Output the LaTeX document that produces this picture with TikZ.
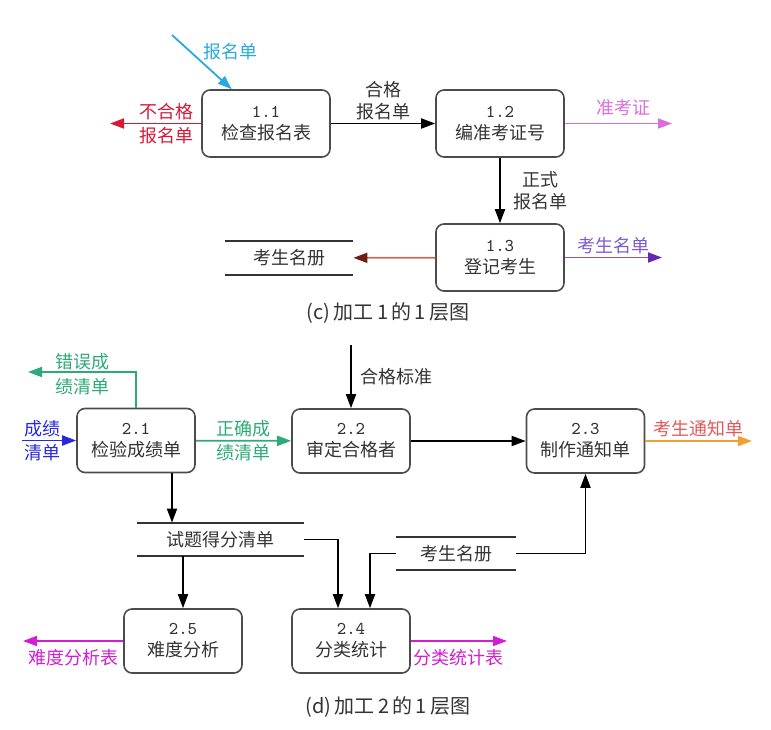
\documentclass[tikz,border=0pt]{standalone}
\usepackage{fontspec}
\newfontfamily\cjk{Noto Sans CJK SC}
\usetikzlibrary{arrows.meta}
\definecolor{rejred}{RGB}{215,25,55}
\definecolor{regblue}{RGB}{40,170,225}
\definecolor{cardpink}{RGB}{220,110,220}
\definecolor{linebrown}{RGB}{190,110,90}
\definecolor{tipbrown}{RGB}{110,30,20}
\definecolor{listpurple}{RGB}{125,90,210}
\definecolor{tippurple}{RGB}{100,40,180}
\definecolor{errgreen}{RGB}{45,170,120}
\definecolor{scoreblue}{RGB}{40,40,220}
\definecolor{noticeorange}{RGB}{240,160,50}
\definecolor{noticetext}{RGB}{225,90,90}
\definecolor{statmagenta}{RGB}{210,30,210}
\begin{document}
\begin{tikzpicture}[
        x=0.5pt, y=-0.5pt,
        every node/.style={font=\cjk\fontsize{9}{11}\selectfont, text=black!80},
        process/.style={rectangle, rounded corners=4pt, draw=black!70, line width=0.8pt, minimum width=64pt, minimum height=33.5pt, align=center, inner sep=1pt},
        subprocess/.style={process, minimum width=59pt, minimum height=32pt},
        store/.style={rectangle, minimum height=16.5pt, inner sep=0pt},
        store_line/.style={line width=1pt, black!80},
        flow/.style={line width=0.9pt, -{Triangle[length=7pt,width=5pt]}},
        flow_label/.style={inner sep=1.5pt, align=center},
        caption/.style={font=\cjk\fontsize{10}{12}\selectfont}
    ]
        \useasboundingbox (0,0) rectangle (771,729);
        % (c) Kreslení procesů 1
        \node[process] (proc11) at (266,123.5) {\texttt{1.1}\\检查报名表};
        \node[process] (proc12) at (500,123.5) {\texttt{1.2}\\编准考证号};
        \node[process] (proc13) at (500,257.5) {\texttt{1.3}\\登记考生};
        \node[store, minimum width=64pt, minimum height=17pt] (store1) at (289,258) {考生名册};
        \node[caption] (capc) at (388,313) {(c)\,加工\,1\,的\,1\,层图};
        \coordinate (regin) at (172,35);
        \coordinate (rejout) at (110,123.5);
        \coordinate (cardout) at (672,123.5);
        \coordinate (listout) at (662,257.5);
        % Toky (c)
        \draw[flow, regblue] (regin) -- (proc11.135)
            node[flow_label, pos=0.3, right=5pt, text=regblue] {报名单};
        \draw[flow, rejred] (proc11.west) -- (rejout)
            node[flow_label, pos=0.38, above, text=rejred] {不合格}
            node[flow_label, pos=0.38, below, text=rejred] {报名单};
        \draw[flow] (proc11) -- (proc12)
            node[flow_label, midway, above] {合格\\报名单};
        \draw[flow, cardpink] (proc12) -- (cardout)
            node[flow_label, pos=0.55, above=2pt, text=cardpink] {准考证};
        \draw[flow] (proc12) -- (proc13)
            node[flow_label, midway, right=5pt] {正式\\报名单};
        \draw[line width=0.9pt, linebrown, -{Triangle[length=7pt,width=5pt,color=tipbrown]}] (proc13) -- (store1);
        \draw[line width=0.9pt, listpurple, -{Triangle[length=7pt,width=5pt,color=tippurple]}] (proc13) -- (listout)
            node[flow_label, midway, above=0pt, text=listpurple] {考生名单};

        % (d) Kreslení procesů 2
        \node[subprocess] (proc21) at (136,440.5) {\texttt{2.1}\\检验成绩单};
        \node[subprocess] (proc22) at (351,441) {\texttt{2.2}\\审定合格者};
        \node[subprocess] (proc23) at (585.5,441) {\texttt{2.3}\\制作通知单};
        \node[subprocess] (proc25) at (183,641) {\texttt{2.5}\\难度分析};
        \node[subprocess] (proc24) at (351,641) {\texttt{2.4}\\分类统计};
        \node[store, minimum width=83.5pt] (store2) at (220.5,539.5) {试题得分清单};
        \node[store, minimum width=60pt] (store3) at (456,553.5) {考生名册};
        \node[caption] (capd) at (388,707) {(d)\,加工\,2\,的\,1\,层图};
        \coordinate (scorein) at (22,440.5);
        \coordinate (errout) at (28,372);
        \coordinate (stdin) at (351,345);
        \coordinate (noticeout) at (752,441);
        \coordinate (diffout) at (23,641);
        \coordinate (statout) at (507,641);
        \coordinate (down21) at ([xshift=18pt]proc21.south);
        % Čáry úložišť
        \foreach \s in {store1,store2,store3}
            \draw[store_line] (\s.north west) -- (\s.north east) (\s.south west) -- (\s.south east);
        % Toky (d)
        \draw[flow, scoreblue] (scorein) -- (proc21)
            node[flow_label, pos=0.38, above, text=scoreblue] {成绩}
            node[flow_label, pos=0.38, below, text=scoreblue] {清单};
        \draw[flow, errgreen] (proc21.north) |- (errout)
            node[flow_label, pos=0.75, above=-1pt, text=errgreen] {错误成}
            node[flow_label, pos=0.75, below=1pt, text=errgreen] {绩清单};
        \draw[flow, errgreen] (proc21) -- (proc22)
            node[flow_label, midway, above, text=errgreen] {正确成}
            node[flow_label, midway, below, text=errgreen] {绩清单};
        \draw[flow] (stdin) -- (proc22)
            node[flow_label, midway, right=3pt] {合格标准};
        \draw[flow] (proc22) -- (proc23);
        \draw[flow, noticeorange] (proc23) -- (noticeout)
            node[flow_label, midway, above=0pt, text=noticetext] {考生通知单};
        \draw[flow] (down21) -- (down21 |- store2.north);
        \draw[flow] (proc25.north |- store2.south) -- (proc25.north);
        \draw[flow] (store2.east) -| ([xshift=-6.5pt]proc24.north);
        \draw[flow] (store3.west) -| ([xshift=9.5pt]proc24.north);
        \draw[flow] (store3.east) -| (proc23.south);
        \draw[flow, statmagenta] (proc25) -- (diffout)
            node[flow_label, midway, below=2pt, text=statmagenta] {难度分析表};
        \draw[flow, statmagenta] (proc24) -- (statout)
            node[flow_label, midway, below=2pt, text=statmagenta] {分类统计表};
    \end{tikzpicture}
\end{document}
